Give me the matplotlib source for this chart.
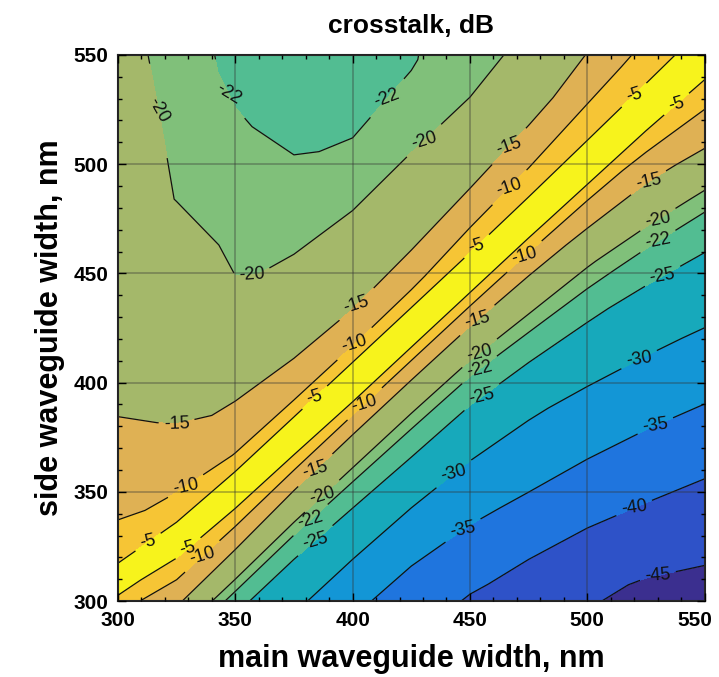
import numpy as np
import matplotlib.pyplot as plt
from matplotlib.ticker import MultipleLocator
from matplotlib.transforms import ScaledTranslation

plt.rcParams['font.family'] = ['Liberation Sans', 'DejaVu Sans']

# main waveguide width, nm (columns of the table)
main_w = np.array([300, 325, 350, 375, 400, 425, 450, 475, 500, 525, 550])
# side width minus main width, nm (rows of the table)
offset = np.array([-250, -210, -180, -150, -120, -95, -75, -60, -48, -38, -28, -18,
                   -9, 0, 9, 18, 30, 45, 65, 90, 120, 160, 200, 250])

# crosstalk, dB
crosstalk = np.array([
    [-48.0, -48.0, -48.0, -48.0, -48.0, -48.0, -48.0, -48.0, -48.0, -47.4, -46.8],
    [-46.3, -46.3, -46.3, -46.3, -46.2, -46.2, -46.1, -46.2, -45.7, -44.7, -42.4],
    [-45.0, -45.0, -45.0, -45.0, -44.8, -44.5, -44.3, -44.5, -42.2, -40.0, -37.9],
    [-41.3, -41.3, -41.3, -41.3, -41.2, -41.0, -40.5, -38.9, -37.3, -35.5, -33.6],
    [-37.1, -37.1, -37.1, -37.1, -37.1, -36.9, -35.8, -34.2, -32.7, -31.1, -29.3],
    [-33.0, -33.0, -33.0, -33.0, -32.9, -32.6, -31.7, -30.5, -29.0, -27.3, -25.7],
    [-29.1, -29.0, -29.0, -28.8, -28.8, -28.5, -28.0, -26.9, -25.5, -24.1, -22.6],
    [-26.4, -26.0, -26.0, -26.0, -25.6, -25.2, -24.9, -23.8, -22.6, -21.3, -19.6],
    [-24.0, -22.7, -22.9, -23.1, -22.8, -22.5, -22.2, -21.1, -20.2, -18.8, -16.4],
    [-21.3, -19.2, -19.3, -19.7, -19.7, -19.7, -19.5, -18.6, -17.5, -16.3, -13.7],
    [-17.9, -15.2, -15.7, -16.6, -16.7, -16.7, -16.5, -15.7, -14.6, -13.2, -11.1],
    [-14.4, -11.4, -11.4, -12.2, -12.6, -12.6, -12.5, -11.9, -10.9, -9.4, -7.5],
    [-11.6, -6.9, -5.7, -5.5, -5.1, -5.1, -5.1, -5.1, -4.8, -4.6, -4.1],
    [-6.7, -2.3, -1.4, -1.0, -1.0, -1.0, -1.0, -1.0, -1.0, -1.4, -1.3],
    [-1.0, -4.0, -4.8, -4.8, -4.8, -4.8, -4.8, -4.6, -4.4, -4.2, -3.9],
    [-5.3, -8.2, -10.1, -10.6, -10.8, -10.3, -9.0, -8.3, -7.3, -6.7, -6.3],
    [-8.8, -11.4, -13.0, -14.1, -14.5, -14.1, -13.1, -12.2, -10.7, -9.5, -8.8],
    [-11.3, -14.1, -15.6, -16.3, -16.6, -16.5, -16.3, -15.5, -14.3, -12.8, -11.9],
    [-13.6, -15.7, -17.5, -18.5, -18.9, -18.9, -19.0, -17.5, -16.6, -15.9, -15.4],
    [-15.4, -16.8, -19.7, -20.5, -20.9, -20.7, -20.6, -20.1, -18.5, -18.0, -17.6],
    [-16.5, -18.2, -20.7, -21.7, -22.4, -22.1, -21.2, -20.5, -20.1, -19.5, -19.3],
    [-17.7, -20.1, -21.6, -23.0, -23.6, -22.3, -21.6, -20.7, -20.3, -20.3, -20.2],
    [-18.3, -20.6, -22.6, -23.7, -23.8, -22.4, -21.8, -20.8, -20.6, -20.6, -20.6],
    [-19.0, -21.3, -23.0, -24.0, -24.0, -22.5, -22.0, -21.0, -21.0, -21.0, -21.0],
])

levels = [-50, -45, -40, -35, -30, -25, -22, -20, -15, -10, -5, 0]
band_colors = ['#3b2f8f', '#2e52c8', '#1f75de', '#1396d6', '#17a9bb', '#52bd92',
               '#80c07a', '#a4b86a', '#dfb154', '#f6c535', '#f7f31c']

# grid: columns = main width, side width = main + offset
X = np.tile(main_w, (len(offset), 1)).astype(float)
Y = X + offset[:, None]

fig = plt.figure(figsize=(7.19, 6.77), dpi=100)
ax = fig.add_axes([0.164, 0.112, 0.816, 0.807])

ax.contourf(X, Y, crosstalk, levels=levels, colors=band_colors)
lines = ax.contour(X, Y, crosstalk, levels=levels[1:-1], colors='#111111',
                   linewidths=0.9, linestyles='solid')

label_pos = [(316, 522), (357, 443), (431, 505), (347, 531), (415, 528),
             (325, 375), (402, 433), (467, 505), (453, 430), (526, 493), (384, 361),
             (329, 350), (401, 416), (467, 488), (336, 320), (405, 392), (473, 460),
             (313, 325), (330, 323), (384, 392), (453, 461), (520, 531), (538, 528),
             (387, 348), (454, 415), (530, 476),
             (382, 338), (454, 407), (530, 466),
             (384, 329), (455, 394), (532, 450),
             (443, 360), (522, 412), (447, 333), (529, 380), (520, 342), (530, 316)]
ax.clabel(lines, fmt='%d', manual=label_pos, fontsize=13, inline=True)

ax.set_xlim(300, 550)
ax.set_ylim(300, 550)
ax.set_xticks(range(300, 551, 50))
ax.set_yticks(range(300, 551, 50))
ax.xaxis.set_minor_locator(MultipleLocator(10))
ax.yaxis.set_minor_locator(MultipleLocator(10))
ax.tick_params(which='both', direction='in', top=True, right=True, labelsize=15)
ax.tick_params(which='major', length=6, width=1, pad=7)
ax.tick_params(which='minor', length=3, width=1)
for lab in ax.get_xticklabels() + ax.get_yticklabels():
    lab.set_fontweight('bold')
# keep the last x tick label inside the figure
last = ax.get_xticklabels()[-1]
last.set_transform(last.get_transform() + ScaledTranslation(-0.1, 0, fig.dpi_scale_trans))
for sp in ax.spines.values():
    sp.set_linewidth(1.5)
    sp.set_color('#222222')

ax.set_axisbelow(False)
ax.grid(True, color='#333333', alpha=0.4, linewidth=1.2)

ax.set_title('crosstalk, dB', fontsize=19, fontweight='bold', pad=16)
ax.set_xlabel('main waveguide width, nm', fontsize=22, fontweight='bold', labelpad=10)
ax.set_ylabel('side waveguide width, nm', fontsize=22, fontweight='bold', labelpad=6)

fig.savefig('out.png', dpi=100)
